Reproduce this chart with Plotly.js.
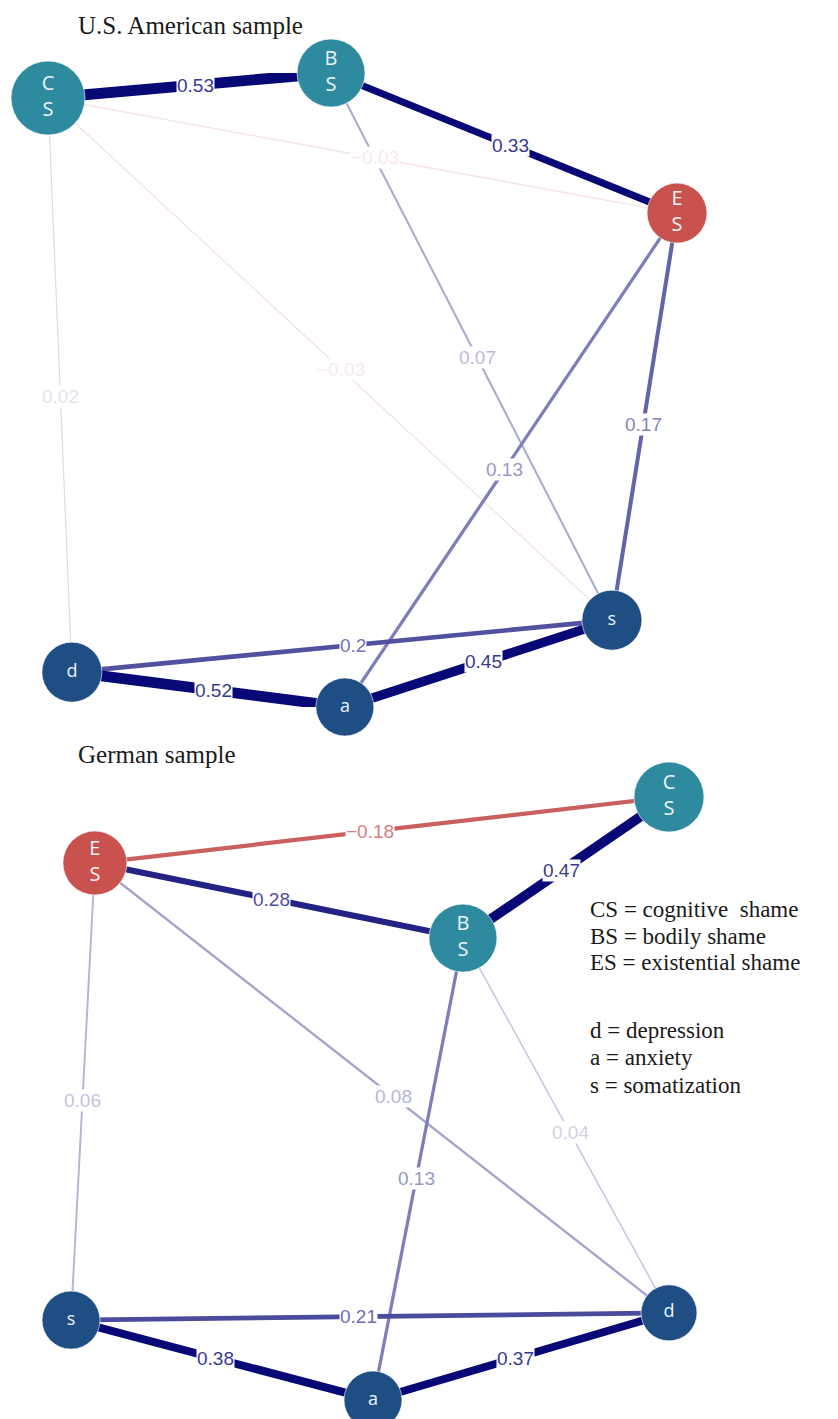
<!DOCTYPE html>
<html>
<head>
<meta charset="utf-8">
<script src="https://cdn.plot.ly/plotly-3.0.1.min.js"></script>
<style>
  html, body { margin: 0; padding: 0; background: #ffffff; }
  #chart { width: 838px; height: 1419px; }
</style>
</head>
<body>
<div id="chart"></div>
<script>
// ---- nodes ----
const nodeIds    = ['CS', 'BS', 'ES', 'd', 'a', 's'];
const nodeLabels = ['C<br>S', 'B<br>S', 'E<br>S', 'd', 'a', 's'];

// network layout coordinates (range -1..1) for each sample
const usLayoutX = [-1.000, -0.100, 1.000, -0.924, -0.056, 0.793];
const usLayoutY = [ 0.921,  1.000, 0.558, -0.890, -1.000, -0.726];
const deLayoutX = [ 1.000,  0.311, -0.920, 1.000, 0.010, -1.000];
const deLayoutY = [ 1.000,  0.532,  0.781, -0.711, -1.000, -0.735];

// ---- partial correlations (edges) ----
const usEdgeFrom   = ['CS', 'CS', 'CS', 'CS', 'BS', 'BS', 'ES', 'ES', 'd', 'd', 'a'];
const usEdgeTo     = ['BS', 'ES', 'd', 's', 'ES', 's', 'a', 's', 'a', 's', 's'];
const usEdgeWeight = [0.53, -0.03, 0.02, -0.03, 0.33, 0.07, 0.13, 0.17, 0.52, 0.2, 0.45];

const deEdgeFrom   = ['CS', 'CS', 'BS', 'BS', 'BS', 'ES', 'ES', 'd', 'd', 'a'];
const deEdgeTo     = ['BS', 'ES', 'ES', 'a', 'd', 'd', 's', 'a', 's', 's'];
const deEdgeWeight = [0.47, -0.18, 0.28, 0.13, 0.04, 0.08, 0.06, 0.37, 0.21, 0.38];

// ---- legend text ----
const legendLines = [
  'CS = cognitive  shame',
  'BS = bodily shame',
  'ES = existential shame',
  'd = depression',
  'a = anxiety',
  's = somatization'
];

// ---- styling ----
const W = 838, H = 1419;
const nodeFill = { CS: '#2e8a9f', BS: '#2e8a9f', ES: '#c9524e', d: '#1f4e84', a: '#1f4e84', s: '#1f4e84' };
const usNodeDiameter = [74, 68, 60, 60, 58, 60];
const deNodeDiameter = [70, 68, 64, 56, 58, 58];
const nodeFontSize = [20, 20, 20, 18, 18, 18];
const POS_RGB = [8, 8, 118];
const NEG_RGB = [196, 78, 76];
const LABEL_FRACTION = 0.52;

function blend(rgb, t) {
  const c = rgb.map(v => Math.round(255 - (255 - v) * t));
  return 'rgb(' + c.join(',') + ')';
}
function edgeStrength(w) {
  return w > 0 ? Math.pow(Math.min(1, w / 0.33), 0.7) : Math.min(1, -w / 0.2);
}
function edgeColor(w) { return blend(w > 0 ? POS_RGB : NEG_RGB, edgeStrength(w)); }
function labelColor(w) { return blend(w > 0 ? POS_RGB : NEG_RGB, edgeStrength(w) * 0.8); }
function edgeWidth(w) { return 0.8 + 19 * Math.abs(w); }
function fmt(w) { return String(w).replace('-', '\u2212'); }
function px2x(px) { return px / W; }
function px2y(py) { return 1 - py / H; }

const traces = [];
const annotations = [];

function addNetwork(lx, ly, from, to, weight, diam, xa, ya) {
  const idx = id => nodeIds.indexOf(id);
  // weaker edges underneath, stronger on top
  const order = weight.map((w, i) => i).sort((a, b) => Math.abs(weight[a]) - Math.abs(weight[b]));
  order.forEach(i => {
    const a = idx(from[i]), b = idx(to[i]), w = weight[i];
    traces.push({
      type: 'scatter', mode: 'lines', xaxis: xa, yaxis: ya,
      x: [lx[a], lx[b]], y: [ly[a], ly[b]],
      line: { color: edgeColor(w), width: edgeWidth(w) },
      hoverinfo: 'skip', showlegend: false, cliponaxis: false
    });
    annotations.push({
      xref: xa, yref: ya,
      x: lx[a] + (lx[b] - lx[a]) * LABEL_FRACTION,
      y: ly[a] + (ly[b] - ly[a]) * LABEL_FRACTION,
      text: fmt(w), showarrow: false,
      bgcolor: '#ffffff', borderpad: 0,
      font: { family: 'Liberation Sans, Arial, sans-serif', size: 19, color: labelColor(w) }
    });
  });
  traces.push({
    type: 'scatter', mode: 'markers+text', xaxis: xa, yaxis: ya,
    x: lx, y: ly, text: nodeLabels, textposition: 'middle center',
    textfont: { family: 'Open Sans, sans-serif', size: nodeFontSize, color: '#eef6f7' },
    marker: {
      size: diam,
      color: nodeIds.map(id => nodeFill[id]),
      line: { color: 'rgba(255,255,255,0.6)', width: 1 },
      opacity: 1
    },
    hoverinfo: 'skip', showlegend: false, cliponaxis: false
  });
}

addNetwork(usLayoutX, usLayoutY, usEdgeFrom, usEdgeTo, usEdgeWeight, usNodeDiameter, 'x', 'y');
addNetwork(deLayoutX, deLayoutY, deEdgeFrom, deEdgeTo, deEdgeWeight, deNodeDiameter, 'x2', 'y2');

const serif = 'Liberation Serif, Times New Roman, serif';
annotations.push({
  xref: 'paper', yref: 'paper', x: px2x(76), y: px2y(25), xanchor: 'left', yanchor: 'middle',
  text: 'U.S. American sample', showarrow: false, font: { family: serif, size: 25, color: '#1a1a1a' }
});
annotations.push({
  xref: 'paper', yref: 'paper', x: px2x(76), y: px2y(755), xanchor: 'left', yanchor: 'middle',
  text: 'German sample', showarrow: false, font: { family: serif, size: 25, color: '#1a1a1a' }
});
const legendY = [909, 936, 962, 1030, 1057, 1085];
legendLines.forEach((t, i) => {
  annotations.push({
    xref: 'paper', yref: 'paper', x: px2x(588), y: px2y(legendY[i]), xanchor: 'left', yanchor: 'middle',
    text: t.replace(/  /g, '&nbsp; '), showarrow: false, font: { family: serif, size: 23, color: '#1a1a1a' }
  });
});

const hiddenAxis = { visible: false, showgrid: false, zeroline: false, fixedrange: true };
const layout = {
  width: W, height: H,
  margin: { l: 0, r: 0, t: 0, b: 0 },
  paper_bgcolor: '#ffffff', plot_bgcolor: '#ffffff',
  showlegend: false,
  xaxis:  Object.assign({}, hiddenAxis, { range: [-1, 1], domain: [px2x(48), px2x(677)], anchor: 'y' }),
  yaxis:  Object.assign({}, hiddenAxis, { range: [-1, 1], domain: [px2y(707), px2y(73)], anchor: 'x' }),
  xaxis2: Object.assign({}, hiddenAxis, { range: [-1, 1], domain: [px2x(71), px2x(669)], anchor: 'y2' }),
  yaxis2: Object.assign({}, hiddenAxis, { range: [-1, 1], domain: [px2y(1400), px2y(797)], anchor: 'x2' }),
  annotations: annotations
};

Plotly.newPlot('chart', traces, layout, { displayModeBar: false, staticPlot: true });
</script>
</body>
</html>
